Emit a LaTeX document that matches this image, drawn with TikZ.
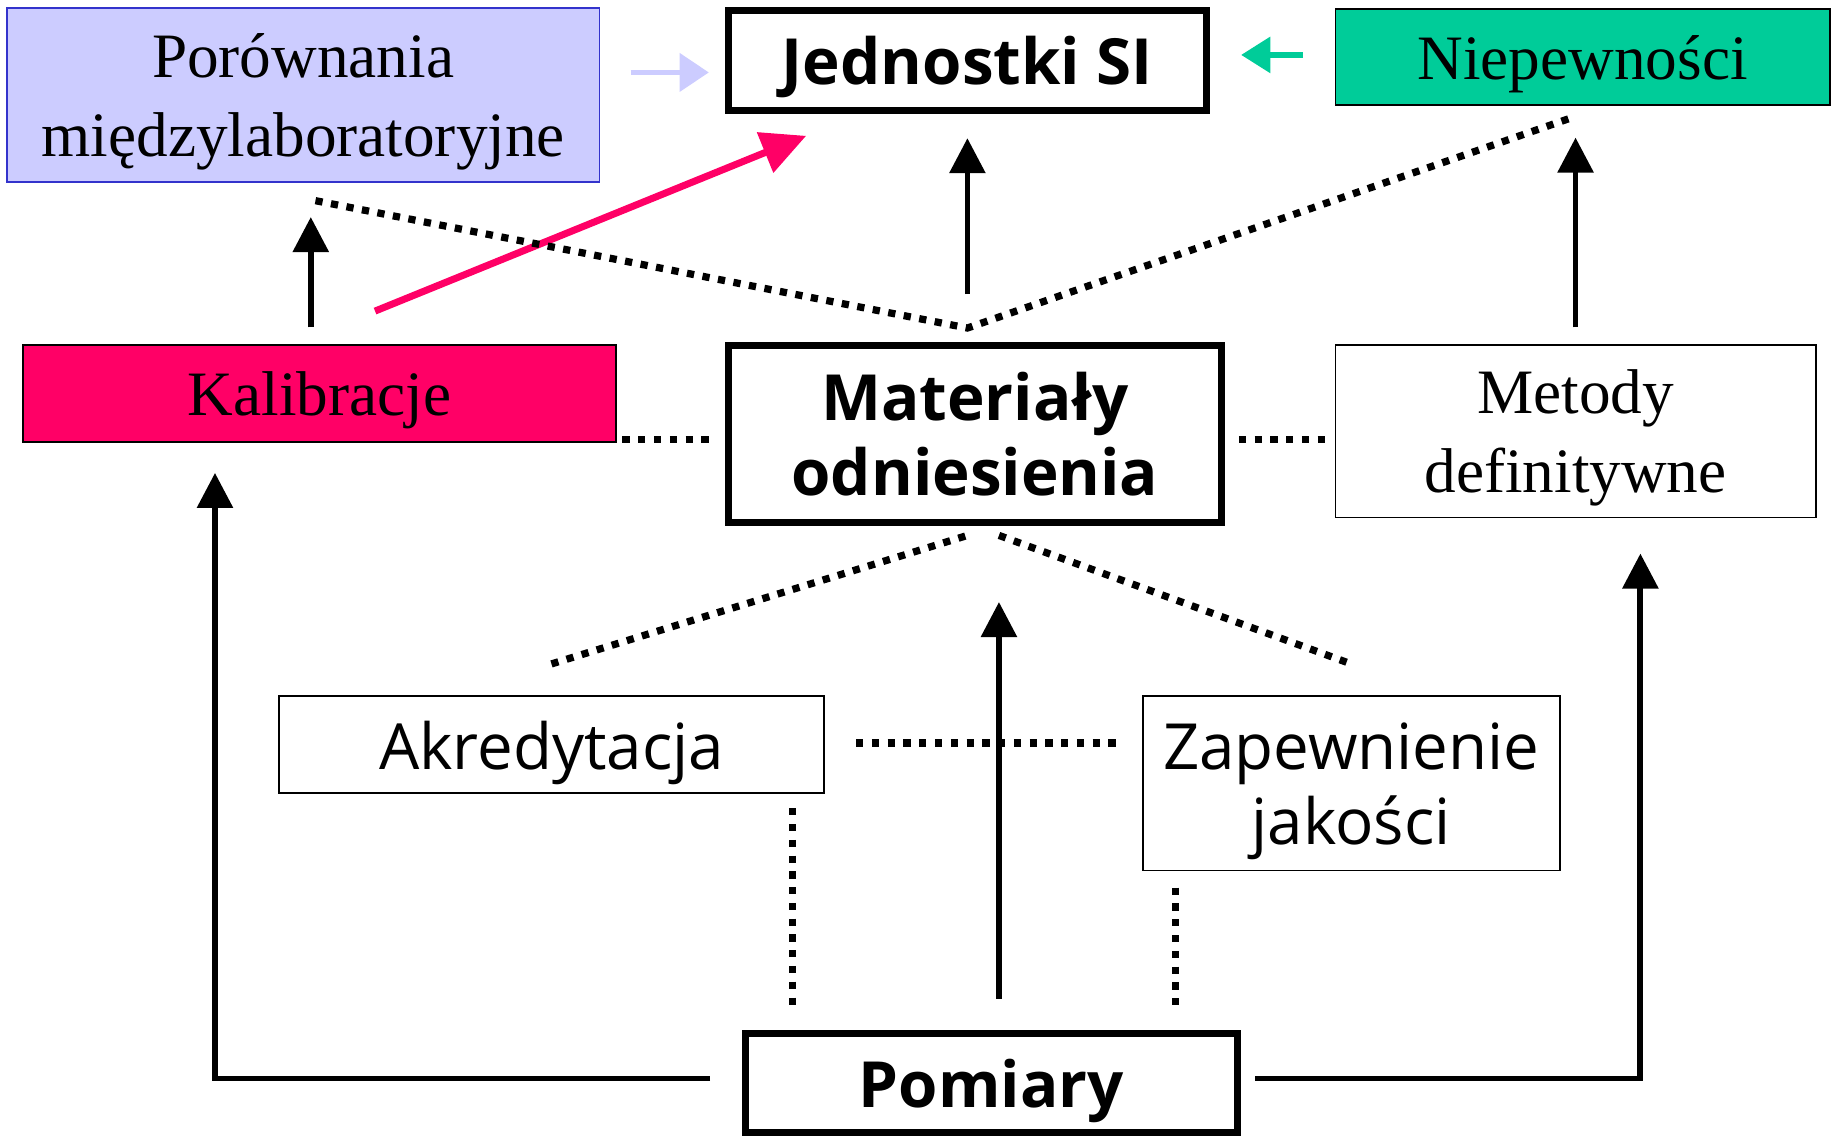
\documentclass[tikz,border=0pt]{standalone}
\usepackage{fontspec}
\setmainfont{Liberation Serif}
\newfontfamily\comicfont{Open Sans}
\usetikzlibrary{arrows.meta}
\definecolor{lavender}{HTML}{CCCCFF}
\definecolor{lavborder}{HTML}{3333CC}
\definecolor{kalred}{HTML}{FF0066}
\definecolor{niegreen}{HTML}{00CC99}
\begin{document}
\begin{tikzpicture}[x=1cm,y=-1cm,
    serifbox/.style={draw,line width=0.015cm,align=center,inner sep=0pt,text depth=0pt,font=\fontsize{15.4}{19.2}\selectfont},
    comicbox/.style={draw,line width=0.015cm,align=center,inner sep=0pt,text depth=0pt,font=\comicfont\fontsize{15.5}{18.3}\selectfont},
    heavybox/.style={comicbox,line width=0.06cm,font=\comicfont\bfseries\fontsize{15.5}{18.3}\selectfont},
    arr/.style={line width=0.05cm,-{Triangle[length=0.3cm,width=0.3cm]}},
    dotline/.style={line width=0.062cm,dash pattern=on 0.062cm off 0.073cm}]
        \useasboundingbox (0,0) rectangle (15.68,9.75);
        % boxes
        \node[serifbox,fill=lavender,draw=lavborder,minimum width=5.07cm,minimum height=1.49cm] (por) at (2.595,0.815) {Porównania\\międzylaboratoryjne};
        \node[heavybox,minimum width=4.085cm,minimum height=0.855cm] (jed) at (8.28,0.515) {Jednostki SI};
        \node[serifbox,fill=niegreen,minimum width=4.23cm,minimum height=0.82cm] (nie) at (13.545,0.49) {Niepewności};
        \node[serifbox,fill=kalred,minimum width=5.07cm,minimum height=0.83cm] (kal) at (2.735,3.365) {Kalibracje};
        \node[heavybox,minimum width=4.215cm,minimum height=1.515cm] (mat) at (8.345,3.715) {Materiały\\odniesienia};
        \node[serifbox,minimum width=4.11cm,minimum height=1.48cm] (met) at (13.485,3.69) {Metody\\definitywne};
        \node[comicbox,minimum width=4.66cm,minimum height=0.83cm] (akr) at (4.72,6.375) {Akredytacja};
        \node[comicbox,minimum width=3.57cm,minimum height=1.49cm] (zap) at (11.565,6.705) {Zapewnienie\\jakości};
        \node[heavybox,minimum width=4.215cm,minimum height=0.845cm] (pom) at (8.485,9.27) {Pomiary};
        % coloured arrows to Jednostki SI
        \draw[line width=0.05cm,lavender,-{Triangle[length=0.25cm,width=0.32cm]},shorten <=0.26cm,shorten >=0.14cm] ([yshift=1.95mm]por.east) -- ([yshift=1.95mm]por.east -| jed.west);
        \draw[line width=0.05cm,niegreen,-{Triangle[length=0.25cm,width=0.3cm]},shorten <=0.27cm,shorten >=0.27cm] ([yshift=0.2mm]nie.west) -- ([yshift=0.2mm]nie.west -| jed.east);
        \draw[line width=0.06cm,kalred,-{Triangle[length=0.38cm,width=0.36cm]}] ([xshift=4.75mm,yshift=2.8mm]kal.north) -- ([xshift=-13.8mm,yshift=-1.9mm]jed.south);
        % black arrows
        \draw[arr,shorten <=1.4mm,shorten >=2.9mm] ([xshift=-0.75mm]kal.north) -- ([xshift=-0.75mm]kal.north |- por.south);
        \draw[arr,shorten <=4.1mm,shorten >=2.1mm] (jed.south |- mat.north) -- (jed.south);
        \draw[arr,shorten <=1.4mm,shorten >=2.7mm] (met.north) -- (met.north |- nie.south);
        \draw[arr,shorten <=2.7mm,shorten >=6.5mm] ([xshift=0.65mm]pom.north) -- ([xshift=0.65mm]pom.north |- mat.south);
        \draw[arr,shorten <=2.7mm,shorten >=2.6mm] ([yshift=0.4mm]pom.west) -| ([xshift=-8.95mm]kal.south);
        \draw[arr,shorten <=1.2mm,shorten >=3mm] ([yshift=0.4mm]pom.east) -| ([xshift=5.55mm]met.south);
        % dotted links
        \draw[dotline,shorten <=0.5mm,shorten >=1.1mm] ([yshift=-0.45mm]mat.west -| kal.east) -- ([yshift=-0.45mm]mat.west);
        \draw[dotline,shorten <=1.2mm,shorten >=0.4mm] ([yshift=-0.45mm]mat.east) -- ([yshift=-0.45mm]mat.east -| met.west);
        \draw[dotline] ([xshift=1.05mm,yshift=-1.5mm]por.south) -- ([xshift=-0.65mm,yshift=1.2mm]mat.north) -- ([xshift=-0.65mm,yshift=-0.9mm]nie.south);
        \draw[dotline] ([yshift=2.7mm]akr.north) -- ([xshift=-0.65mm,yshift=-0.8mm]mat.south);
        \draw[dotline] ([xshift=2.05mm,yshift=-0.8mm]mat.south) -- ([yshift=2.7mm]zap.north);
        \draw[dotline,shorten <=2.7mm,shorten >=1.9mm] ([yshift=0.15mm]akr.east) -- ([yshift=0.15mm]akr.east -| zap.west);
        \draw[dotline,shorten <=1.2mm,shorten >=2mm] ([xshift=20.6mm]akr.south) -- ([xshift=20.6mm]akr.south |- pom.north);
        \draw[dotline,shorten <=1.4mm,shorten >=2mm] ([xshift=-15.05mm]zap.south) -- ([xshift=-15.05mm]zap.south |- pom.north);
    \end{tikzpicture}
\end{document}
